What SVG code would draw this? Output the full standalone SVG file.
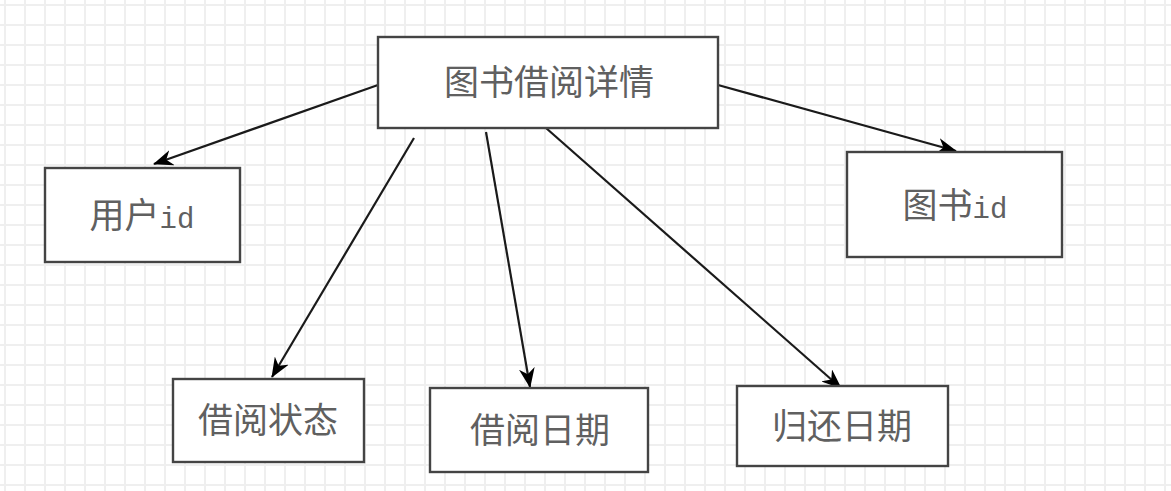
<svg xmlns="http://www.w3.org/2000/svg" width="1171" height="491" viewBox="0 0 1171 491">
<defs>
<pattern id="grid" x="4" y="4" width="20" height="20" patternUnits="userSpaceOnUse">
<path d="M1 0 V20 M0 1 H20" stroke="#efefef" stroke-width="2" fill="none"/>
</pattern>
<marker id="arr" viewBox="0 0 20 16" refX="19" refY="8" markerWidth="20" markerHeight="16" markerUnits="userSpaceOnUse" orient="auto">
<path d="M0,0 L20,8 L0,16 L6,8 z" fill="#000"/>
</marker>
<style>
.box{fill:#fff;stroke:#444;stroke-width:2.4}
.lbl{font-family:"Noto Sans CJK SC","Liberation Sans",sans-serif;font-size:35px;fill:#606060;text-anchor:middle}
.mono{font-family:"Liberation Mono",monospace;font-size:29px}
.edge{stroke:#1a1a1a;stroke-width:2.2;fill:none;marker-end:url(#arr)}
</style>
</defs>
<rect width="1171" height="491" fill="#fff"/>
<rect width="1171" height="491" fill="url(#grid)"/>
<g id="connectors">
<line class="edge" x1="378" y1="85" x2="154" y2="164"/>
<line class="edge" x1="414" y1="138" x2="272" y2="377"/>
<line class="edge" x1="486" y1="132" x2="530" y2="387"/>
<line class="edge" x1="546" y1="128" x2="841" y2="388"/>
<line class="edge" x1="718" y1="85" x2="956" y2="151"/>
</g>
<g id="node-main">
<rect class="box" x="378" y="37" width="340" height="91"/>
<text class="lbl" x="549" y="95">图书借阅详情</text>
</g>
<g id="node-userid">
<rect class="box" x="45" y="168" width="195" height="94"/>
<text class="lbl" x="142" y="228">用户<tspan class="mono">id</tspan></text>
</g>
<g id="node-bookid">
<rect class="box" x="847" y="152" width="215" height="105"/>
<text class="lbl" x="955" y="218">图书<tspan class="mono">id</tspan></text>
</g>
<g id="node-status">
<rect class="box" x="173" y="379" width="191" height="83"/>
<text class="lbl" x="268" y="433">借阅状态</text>
</g>
<g id="node-borrowdate">
<rect class="box" x="430" y="388" width="218" height="84"/>
<text class="lbl" x="540" y="443">借阅日期</text>
</g>
<g id="node-returndate">
<rect class="box" x="737" y="386" width="211" height="80"/>
<text class="lbl" x="842" y="439">归还日期</text>
</g>
</svg>
